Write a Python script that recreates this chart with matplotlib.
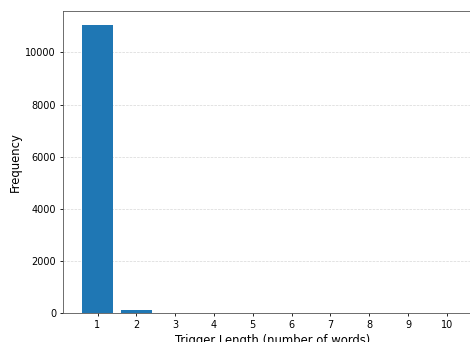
import matplotlib.pyplot as plt
import numpy as np

largos = [1, 2, 3, 4, 5, 6, 7, 8, 9, 10]
frecuencias = [11040, 115, 15, 5, 2, 1, 1, 0, 0, 0]

fig = plt.figure(figsize=(4.7, 3.42), dpi=100)
# la imagen original está recortada a la derecha y abajo
ax = fig.add_axes([0.134, 0.085, 0.890, 0.883])
ax.bar(largos, frecuencias, width=0.8, color='#1f77b4')
ax.set_xticks(largos)
ax.set_xlabel("Trigger Length (number of words)", fontsize=8.4, labelpad=2.8)
ax.set_ylabel("Frequency", fontsize=8.4, labelpad=2.8)
ax.grid(axis='y', linestyle='--', alpha=0.5, linewidth=0.5)
ax.set_axisbelow(True)
for s in ax.spines.values():
    s.set_color('#555555')
    s.set_linewidth(0.6)
ax.tick_params(labelsize=7, length=2.5, width=0.6, pad=2.5)
fig.savefig("out.png", dpi=100)
